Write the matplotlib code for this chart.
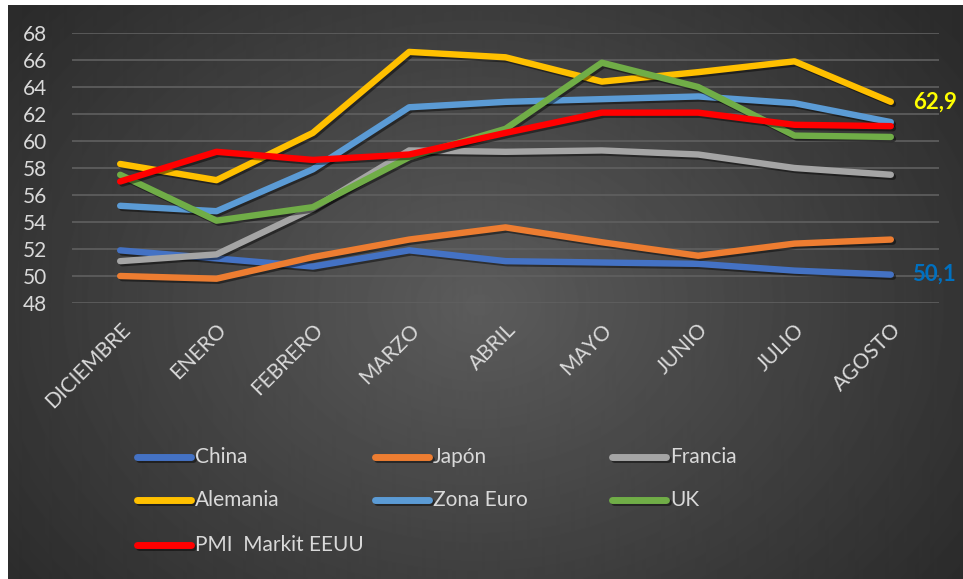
import matplotlib.pyplot as plt
import matplotlib.patheffects as pe
from matplotlib.lines import Line2D
import numpy as np

# Data
months = ['DICIEMBRE', 'ENERO', 'FEBRERO', 'MARZO', 'ABRIL', 'MAYO', 'JUNIO', 'JULIO', 'AGOSTO']
china = [51.9, 51.3, 50.7, 51.9, 51.1, 51.0, 50.9, 50.4, 50.1]
japon = [50.0, 49.8, 51.4, 52.7, 53.6, 52.5, 51.5, 52.4, 52.7]
francia = [51.1, 51.6, 55.0, 59.3, 59.2, 59.3, 59.0, 58.0, 57.5]
alemania = [58.3, 57.1, 60.6, 66.6, 66.2, 64.4, 65.1, 65.9, 62.9]
zona_euro = [55.2, 54.8, 57.9, 62.5, 62.9, 63.1, 63.3, 62.8, 61.4]
uk = [57.5, 54.1, 55.1, 58.8, 60.9, 65.8, 64.0, 60.4, 60.3]
pmi_eeuu = [57.0, 59.2, 58.6, 59.0, 60.6, 62.1, 62.1, 61.2, 61.1]

series = [
    ('China', china, '#4472c4'),
    ('Japón', japon, '#ed7d31'),
    ('Francia', francia, '#a5a5a5'),
    ('Alemania', alemania, '#ffc000'),
    ('Zona Euro', zona_euro, '#5b9bd5'),
    ('UK', uk, '#70ad47'),
    ('PMI  Markit EEUU', pmi_eeuu, '#ff0000'),
]

plt.rcParams['font.family'] = ['Lato', 'DejaVu Sans']
text_color = '#d9d9d9'

W, H = 963, 579
fig = plt.figure(figsize=(W / 100, H / 100), dpi=100)
fig.patch.set_facecolor('white')

# Dark radial-gradient panel
bg = fig.add_axes([8 / W, 0, (W - 8) / W, (H - 5) / H])
bg.axis('off')
ph, pw = H - 5, W - 8
yy, xx = np.mgrid[0:ph, 0:pw]
d = np.sqrt(((xx - 470) / (pw * 0.62)) ** 2 + ((yy - 300) / (ph * 0.8)) ** 2)
shade = 0.36 - (0.36 - 0.17) * np.clip(d, 0, 1)
bg.imshow(shade, cmap='gray', vmin=0, vmax=1, aspect='auto', interpolation='bilinear')

# Main plot area
ax = fig.add_axes([72 / W, 1 - 303 / H, 867 / W, 270 / H])
ax.set_facecolor('none')
x = np.arange(len(months))

shadow = [pe.SimpleLineShadow(offset=(1.5, -1.5), shadow_color='black', alpha=0.45), pe.Normal()]
for name, vals, color in series:
    ax.plot(x, vals, color=color, linewidth=4.6, solid_capstyle='round',
            solid_joinstyle='round', path_effects=shadow)

ax.set_xlim(-0.5, len(months) - 0.5)
ax.set_ylim(48, 68)
ax.set_yticks(np.arange(48, 69, 2))
ax.yaxis.grid(True, color='#606060', linewidth=1.2)
ax.set_axisbelow(True)
for s in ax.spines.values():
    s.set_visible(False)
ax.tick_params(axis='both', length=0, colors=text_color, labelsize=15)
ax.tick_params(axis='y', pad=18)
ax.set_xticks(x)
ax.set_xticklabels(months, rotation=45, ha='right', rotation_mode='anchor')
ax.tick_params(axis='x', pad=12)

# End labels
ax.annotate('62,9', (x[-1], alemania[-1]), xytext=(16, 0), textcoords='offset points',
            va='center', ha='left', color='#ffff00', fontsize=16, fontweight='bold')
ax.annotate('50,1', (x[-1], china[-1]), xytext=(15, 0), textcoords='offset points',
            va='center', ha='left', color='#0070c0', fontsize=16, fontweight='bold')

# Legend, drawn as a 3-column grid
col_x = [137, 375, 612]
row_y = [457, 500, 545]
for i, (name, vals, color) in enumerate(series):
    cx = col_x[i % 3]
    cy = 1 - row_y[i // 3] / H
    fig.add_artist(Line2D([cx / W, (cx + 54) / W], [cy, cy], color=color, linewidth=5,
                          solid_capstyle='round', path_effects=shadow))
    fig.text((cx + 58) / W, cy, name, color=text_color, fontsize=15, va='center', ha='left')

fig.savefig('out.png', dpi=100)
